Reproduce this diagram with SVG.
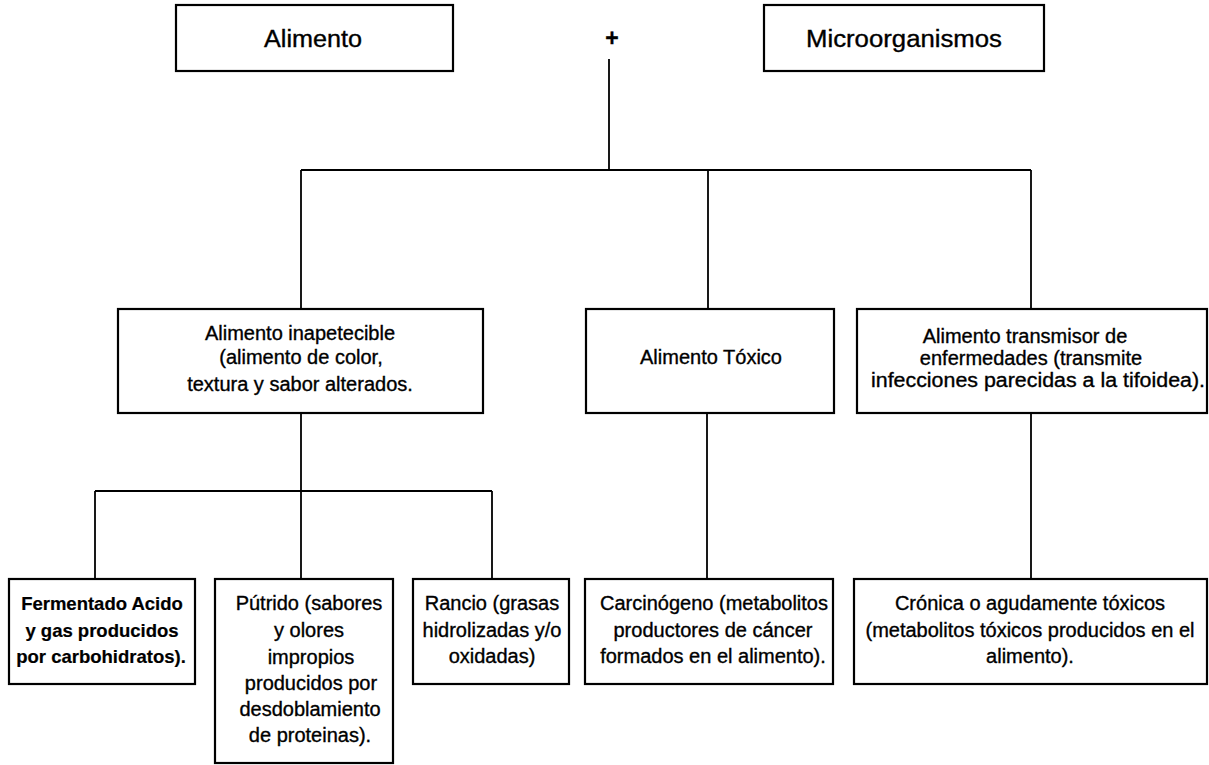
<svg xmlns="http://www.w3.org/2000/svg" width="1209" height="765" viewBox="0 0 1209 765">
<style>
.box{fill:#fff;stroke:#000;stroke-width:2.2}
.con{fill:none;stroke:#000;stroke-width:1.8}
text{font-family:"Liberation Sans",Arial,sans-serif;font-size:20px;fill:#000;stroke:#000;stroke-width:0.35;text-anchor:middle}
.big{font-size:23px}
.b{font-weight:bold;font-size:18.5px;stroke-width:0.2}
</style>
<rect width="1209" height="765" fill="#fff"/>
<g id="connectors">
<path class="con" d="M609 59V170M301 170H1031M301 170V309M708 170V309M1031 170V309"/>
<path class="con" d="M301 413V579M95 491H492M95 491V579M492 491V579"/>
<path class="con" d="M707 413V579M1031 413V579"/>
</g>
<g id="alimento"><rect class="box" x="176" y="5" width="277" height="66"/><text class="big" x="313" y="47" textLength="98" lengthAdjust="spacingAndGlyphs">Alimento</text></g>
<g id="plus"><text class="big" x="612" y="46" style="font-weight:bold">+</text></g>
<g id="microorganismos"><rect class="box" x="764" y="5" width="280" height="66"/><text class="big" x="904" y="47" textLength="196" lengthAdjust="spacingAndGlyphs">Microorganismos</text></g>
<g id="inapetecible"><rect class="box" x="118" y="309" width="365" height="104"/>
<text x="300" y="340">Alimento inapetecible</text>
<text x="301" y="364">(alimento de color,</text>
<text x="300" y="391">textura y sabor alterados.</text></g>
<g id="toxico"><rect class="box" x="586" y="309" width="248" height="104"/><text x="711" y="364">Alimento Tóxico</text></g>
<g id="transmisor"><rect class="box" x="857" y="309" width="350" height="104"/>
<text x="1025" y="343">Alimento transmisor de</text>
<text x="1031" y="365">enfermedades (transmite</text>
<text x="1038" y="387" textLength="334" lengthAdjust="spacingAndGlyphs">infecciones parecidas a la tifoidea).</text></g>
<g id="fermentado"><rect class="box" x="9" y="579" width="186" height="105"/>
<text class="b" x="102" y="610">Fermentado Acido</text>
<text class="b" x="102" y="637">y gas producidos</text>
<text class="b" x="101" y="663">por carbohidratos).</text></g>
<g id="putrido"><rect class="box" x="215" y="579" width="178" height="184"/>
<text x="309" y="610">Pútrido (sabores</text>
<text x="309" y="637">y olores</text>
<text x="311" y="664">impropios</text>
<text x="311" y="690">producidos por</text>
<text x="310" y="716">desdoblamiento</text>
<text x="310" y="742">de proteinas).</text></g>
<g id="rancio"><rect class="box" x="413" y="579" width="156" height="105"/>
<text x="492" y="610">Rancio (grasas</text>
<text x="492" y="637">hidrolizadas y/o</text>
<text x="492" y="663">oxidadas)</text></g>
<g id="carcinogeno"><rect class="box" x="585" y="579" width="248" height="105"/>
<text x="714" y="610">Carcinógeno (metabolitos</text>
<text x="713" y="637">productores de cáncer</text>
<text x="713" y="663">formados en el alimento).</text></g>
<g id="cronica"><rect class="box" x="854" y="579" width="353" height="105"/>
<text x="1030" y="610">Crónica o agudamente tóxicos</text>
<text x="1030" y="637">(metabolitos tóxicos producidos en el</text>
<text x="1030" y="663">alimento).</text></g>
</svg>
